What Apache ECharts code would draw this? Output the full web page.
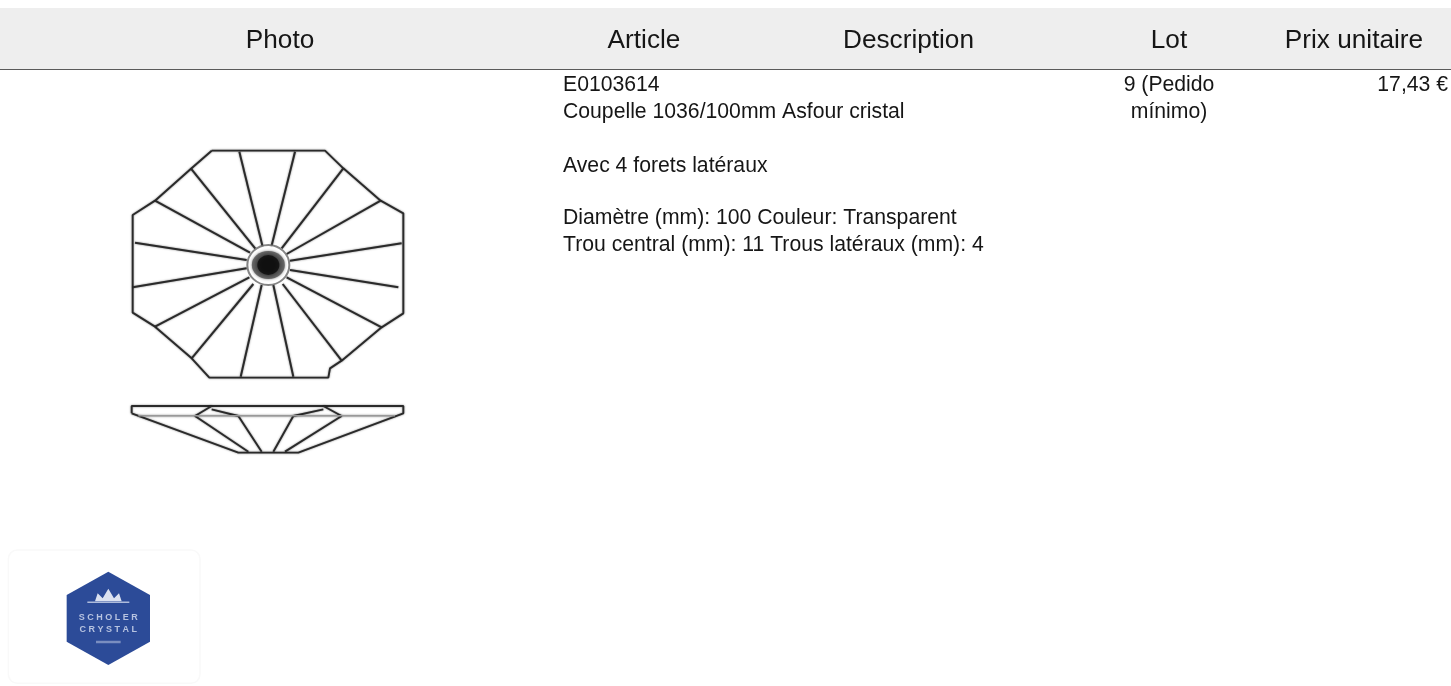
<!DOCTYPE html>
<html>
<head>
<meta charset="utf-8">
<style>
  html, body { margin: 0; padding: 0; background: #fff; }
  #main { width: 1451px; height: 686px; }
</style>
<script src="https://cdn.jsdelivr.net/npm/echarts@6/dist/echarts.min.js"></script>
</head>
<body>
<div id="main"></div>
<script>
// table text
const headers = ["Photo", "Article", "Description", "Lot", "Prix unitaire"];
const headerX = [280, 644, 908.5, 1169, 1354];
const articleLines = [
  "E0103614",
  "Coupelle 1036/100mm Asfour cristal",
  "Avec 4 forets latéraux",
  "Diamètre (mm): 100 Couleur: Transparent",
  "Trou central (mm): 11 Trous latéraux (mm): 4"
];
const articleY = [85, 112, 166, 218, 245];
const lotLines = ["9 (Pedido", "mínimo)"];
const lotY = [85, 112];
const priceText = "17,43 €";

// product drawing, in its own units (960 x 1020)
const octagon = [
  [305, 62], [645, 62], [700, 115], [812, 212], [880, 250], [880, 550], [815, 592], [695, 692],
  [660, 715], [655, 743], [298, 743], [245, 685], [135, 590], [68, 548], [68, 255], [135, 212], [243, 116], [305, 62]
];
const rays = [
  [[388, 65], [458, 350]],
  [[555, 65], [484, 350]],
  [[700, 115], [515, 355]],
  [[812, 212], [530, 372]],
  [[875, 340], [540, 392]],
  [[865, 472], [540, 420]],
  [[815, 592], [530, 442]],
  [[695, 692], [518, 462]],
  [[550, 740], [490, 465]],
  [[392, 740], [455, 465]],
  [[245, 685], [430, 462]],
  [[135, 590], [418, 442]],
  [[68, 472], [410, 415]],
  [[75, 338], [410, 390]],
  [[135, 212], [420, 368]],
  [[243, 116], [436, 356]]
];
const profile = [
  [[65, 850], [65, 828], [880, 828], [880, 850], [565, 968], [385, 968], [65, 850]],
  [[305, 828], [255, 858], [415, 965]],
  [[305, 838], [385, 858], [455, 965]],
  [[640, 828], [695, 858], [525, 965]],
  [[640, 838], [550, 858], [490, 965]]
];
const profileMid = [[85, 857], [855, 857]];
const hubCenter = [[475, 405]];

// logo, in its own units (660 x 468)
const hexagon = [[325, 125], [450, 195], [450, 335], [325, 405], [200, 335], [200, 195]];
const crown = [[285, 214], [293, 190], [308, 205], [325, 176], [342, 205], [357, 190], [365, 214]];
const crownBase = [[262, 217], [388, 217]];
const logoFoot = [[288, 336], [362, 336]];
const logoCard = [25, 60, 600, 460];
const logoWords = ["SCHOLER", "CRYSTAL"];
const logoWordsY = [262, 300];

const inkLine = (name, points, width, color) => ({
  type: "line",
  name: name,
  xAxisIndex: 0,
  yAxisIndex: 0,
  data: points,
  symbol: "none",
  silent: true,
  clip: false,
  lineStyle: { color: color, width: width, shadowColor: "rgba(0,0,0,0.5)", shadowBlur: 2 }
});

const logoPolygon = (points, color) => ({
  type: "custom",
  xAxisIndex: 1,
  yAxisIndex: 1,
  silent: true,
  clip: false,
  data: [0],
  renderItem: (params, api) => ({
    type: "polygon",
    shape: { points: points.map((p) => api.coord(p)) },
    style: { fill: color }
  })
});

const logoStroke = (points, color, width) => ({
  type: "line",
  xAxisIndex: 1,
  yAxisIndex: 1,
  data: points,
  symbol: "none",
  silent: true,
  clip: false,
  lineStyle: { color: color, width: width }
});

const series = [];
series.push(inkLine("octagon", octagon, 1.9, "#2a2a2a"));
rays.forEach((r, i) => series.push(inkLine("ray" + i, r, 2, "#2a2a2a")));
profile.forEach((p, i) => series.push(inkLine("profile" + i, p, 1.9, "#2a2a2a")));
series.push(inkLine("profileMid", profileMid, 1.5, "#999"));

// hub: ring and dark core
series.push({
  type: "scatter",
  xAxisIndex: 0,
  yAxisIndex: 0,
  data: hubCenter,
  symbolSize: [42, 40],
  silent: true,
  z: 5,
  itemStyle: { color: "#fff", borderColor: "#666", borderWidth: 2 }
});
series.push({
  type: "scatter",
  xAxisIndex: 0,
  yAxisIndex: 0,
  data: hubCenter,
  symbolSize: [33, 28],
  silent: true,
  z: 6,
  itemStyle: { color: "#555", shadowColor: "#666", shadowBlur: 3 }
});
series.push({
  type: "scatter",
  xAxisIndex: 0,
  yAxisIndex: 0,
  data: hubCenter,
  symbolSize: [22, 20],
  silent: true,
  z: 7,
  itemStyle: { color: "#0c0c0c", shadowColor: "#111", shadowBlur: 4 }
});

// logo card, badge and marks
series.push({
  type: "custom",
  xAxisIndex: 1,
  yAxisIndex: 1,
  silent: true,
  clip: false,
  data: [0],
  renderItem: (params, api) => {
    const a = api.coord([logoCard[0], logoCard[1]]);
    const b = api.coord([logoCard[2], logoCard[3]]);
    return {
      type: "rect",
      shape: { x: a[0], y: a[1], width: b[0] - a[0], height: b[1] - a[1], r: 9 },
      style: { fill: "#fff", stroke: "#f9f9f9", lineWidth: 1.5 }
    };
  }
});
series.push(logoPolygon(hexagon, "#2c4b98"));
series.push(logoPolygon(crown, "#dbe1f0"));
series.push(logoStroke(crownBase, "#aebbdb", 1.5));
series.push(logoStroke(logoFoot, "rgba(200,210,232,0.5)", 2.5));
series.push({
  type: "custom",
  xAxisIndex: 1,
  yAxisIndex: 1,
  silent: true,
  clip: false,
  data: logoWords.map((w, i) => [325, logoWordsY[i]]),
  renderItem: (params, api) => {
    const c = api.coord([api.value(0), api.value(1)]);
    return {
      type: "text",
      style: {
        text: logoWords[params.dataIndex].split("").join(" "),
        x: c[0],
        y: c[1],
        align: "center",
        verticalAlign: "middle",
        fill: "#b7c3e0",
        font: "bold 9px 'Liberation Sans'"
      }
    };
  }
});

// table band, rule and text
const fontFamily = "'Liberation Sans', Arial, sans-serif";
const bodyFont = "21.2px " + fontFamily;
const graphic = [
  { type: "rect", z: -10, shape: { x: 0, y: 8, width: 1451, height: 61 }, style: { fill: "#eeeeee" } },
  { type: "rect", z: -9, shape: { x: 0, y: 69, width: 1451, height: 1 }, style: { fill: "#5a5a5a" } }
];
headers.forEach((h, i) => {
  graphic.push({
    type: "text",
    style: { text: h, x: headerX[i], y: 41, align: "center", verticalAlign: "middle", fill: "#161616", font: "26.2px " + fontFamily }
  });
});
articleLines.forEach((t, i) => {
  graphic.push({
    type: "text",
    style: { text: t, x: 563, y: articleY[i], align: "left", verticalAlign: "middle", fill: "#161616", font: bodyFont }
  });
});
lotLines.forEach((t, i) => {
  graphic.push({
    type: "text",
    style: { text: t, x: 1169, y: lotY[i], align: "center", verticalAlign: "middle", fill: "#161616", font: bodyFont }
  });
});
graphic.push({
  type: "text",
  style: { text: priceText, x: 1448, y: 85, align: "right", verticalAlign: "middle", fill: "#161616", font: bodyFont }
});

const chart = echarts.init(document.getElementById("main"), null, { renderer: "canvas" });
chart.setOption({
  animation: false,
  backgroundColor: "#ffffff",
  tooltip: { show: false },
  legend: { show: false },
  grid: [
    { left: 110, top: 130, width: 320, height: 340, show: false },
    { left: 0, top: 530, width: 220, height: 156, show: false }
  ],
  xAxis: [
    { type: "value", gridIndex: 0, min: 0, max: 960, show: false },
    { type: "value", gridIndex: 1, min: 0, max: 660, show: false }
  ],
  yAxis: [
    { type: "value", gridIndex: 0, min: 0, max: 1020, inverse: true, show: false },
    { type: "value", gridIndex: 1, min: 0, max: 468, inverse: true, show: false }
  ],
  graphic: graphic,
  series: series
});
</script>
</body>
</html>
